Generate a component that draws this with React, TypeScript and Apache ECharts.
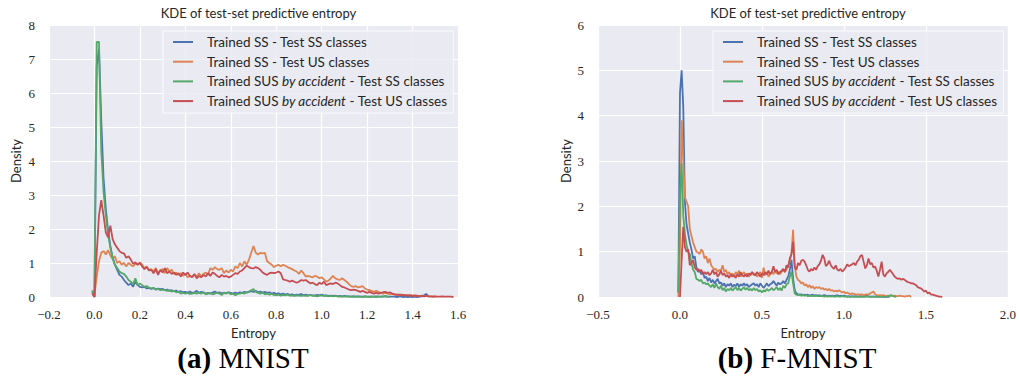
import React, { useEffect, useRef } from "react";
import * as echarts from "echarts";

const SERIES_NAMES = [
  "Trained SS - Test SS classes",
  "Trained SS - Test US classes",
  "Trained SUS by accident - Test SS classes",
  "Trained SUS by accident - Test US classes",
];
const COLORS = ["#4C72B0", "#DD8452", "#55A868", "#C44E52"];

const TITLE = "KDE of test-set predictive entropy";
const X_NAME = "Entropy";
const Y_NAME = "Density";
const CAPTIONS = [
  ["(a)", "MNIST"],
  ["(b)", "F-MNIST"],
];

// x grid of the KDE evaluations: starts at -0.01, step 0.01
const X_START = -0.01;
const X_STEP = 0.01;

// ---------- MNIST (left) ----------
const mnistSsSs = [
  0.15, 0.0, 6.8, 7.3, 5.2, 3.5, 2.6, 1.95, 1.5, 1.15,
  0.95, 0.8, 0.65, 0.6, 0.5, 0.42, 0.35, 0.4, 0.3, 0.45,
  0.35, 0.3, 0.28, 0.3, 0.25, 0.27, 0.24, 0.26, 0.22, 0.25,
  0.23, 0.24, 0.2, 0.22, 0.18, 0.2, 0.17, 0.19, 0.15, 0.17,
  0.14, 0.15, 0.13, 0.16, 0.12, 0.14, 0.18, 0.12, 0.15, 0.13,
  0.1, 0.12, 0.1, 0.13, 0.16, 0.12, 0.14, 0.1, 0.13, 0.11,
  0.14, 0.12, 0.1, 0.13, 0.11, 0.14, 0.12, 0.15, 0.13, 0.15,
  0.17, 0.15, 0.18, 0.14, 0.16, 0.13, 0.15, 0.12, 0.14, 0.1,
  0.12, 0.09, 0.11, 0.08, 0.1, 0.07, 0.09, 0.06, 0.08, 0.05,
  0.07, 0.06, 0.09, 0.05, 0.07, 0.04, 0.06, 0.05, 0.04, 0.06,
  0.05, 0.07, 0.04, 0.05, 0.03, 0.04, 0.03, 0.04, 0.02, 0.03,
  0.02, 0.03, 0.02, 0.02, 0.01, 0.02, 0.01, 0.02, 0.01, 0.01,
  0.02, 0.01, 0.01, 0.01, 0.01, 0.02, 0.01, 0.01, 0.01, 0.01,
  0.01, 0.01, 0.01, 0.01, 0.0, 0.01, 0.01, 0.0, 0.01, 0.0,
  0.01, 0.0, 0.01, 0.0, 0.01, 0.02, 0.05, 0.09, 0.02,
];
const mnistSsUs = [
  null, 0.05, 0.6, 1.05, 1.3, 1.35, 1.25, 1.38, 1.22, 1.12,
  1.2, 1.0, 1.05, 0.95, 1.0, 0.9, 1.0, 0.95, 0.9, 0.98,
  0.95, 1.02, 0.95, 0.85, 0.9, 0.78, 0.82, 0.75, 0.85, 0.7,
  0.78, 0.82, 0.7, 0.85, 0.75, 0.8, 0.68, 0.72, 0.65, 0.7,
  0.62, 0.68, 0.58, 0.62, 0.6, 0.65, 0.6, 0.7, 0.6, 0.68,
  0.72, 0.65, 0.85, 0.8, 0.88, 0.82, 0.8, 0.85, 0.7, 0.78,
  0.72, 0.8, 0.75, 0.9, 0.85, 1.0, 0.9, 1.05, 0.95, 1.1,
  1.3, 1.5, 1.3, 1.25, 1.3, 1.28, 1.3, 1.05, 1.0, 0.95,
  0.88, 0.92, 0.95, 0.9, 0.95, 0.92, 0.88, 0.85, 0.82, 0.78,
  0.75, 0.68, 0.78, 0.7, 0.6, 0.62, 0.6, 0.58, 0.62, 0.6,
  0.55, 0.58, 0.52, 0.45, 0.48, 0.55, 0.62, 0.55, 0.52, 0.5,
  0.55, 0.5, 0.45, 0.38, 0.32, 0.3, 0.32, 0.28, 0.3, 0.32,
  0.25, 0.22, 0.2, 0.18, 0.15, 0.18, 0.15, 0.12, 0.1, 0.12,
  0.1, 0.08, 0.1, 0.07, 0.08, 0.06, 0.08, 0.05, 0.06, 0.05,
  0.06, 0.04, 0.05, 0.04, 0.03, 0.04, 0.02, 0.03, 0.02, 0.01,
  0.02, 0.01,
];
const mnistSusSs = [
  0.2, 0.0, 7.5, 7.5, 4.3, 3.1, 2.4, 1.85, 1.45, 1.15,
  0.95, 0.85, 0.75, 0.7, 0.68, 0.6, 0.5, 0.45, 0.38, 0.55,
  0.35, 0.4, 0.35, 0.3, 0.32, 0.28, 0.25, 0.27, 0.22, 0.24,
  0.2, 0.22, 0.2, 0.18, 0.2, 0.16, 0.18, 0.14, 0.15, 0.1,
  0.12, 0.1, 0.12, 0.09, 0.1, 0.12, 0.1, 0.13, 0.1, 0.14,
  0.08, 0.1, 0.12, 0.08, 0.1, 0.13, 0.1, 0.06, 0.12, 0.1,
  0.14, 0.08, 0.1, 0.05, 0.09, 0.1, 0.12, 0.1, 0.14, 0.16,
  0.2, 0.23, 0.15, 0.12, 0.1, 0.13, 0.08, 0.1, 0.07, 0.09,
  0.06, 0.05, 0.07, 0.04, 0.06, 0.05, 0.07, 0.04, 0.05, 0.03,
  0.05, 0.04, 0.03, 0.05, 0.03, 0.04, 0.06, 0.03, 0.04, 0.02,
  0.04, 0.05, 0.03, 0.04, 0.02, 0.03, 0.02, 0.03, 0.02, 0.01,
  0.02, 0.01, 0.02, 0.01, 0.01, 0.02, 0.01, 0.01, 0.01, 0.0,
  0.01, 0.01, 0.0, 0.01, 0.01, 0.0, 0.01, 0.01, 0.02, 0.03,
  0.01, 0.0,
];
const mnistSusUs = [
  0.1, 0.0, 1.3, 2.4, 2.85, 2.4, 1.9, 1.75, 2.1, 1.7,
  1.55, 1.45, 1.35, 1.3, 1.28, 1.15, 1.2, 1.1, 0.98, 1.02,
  0.95, 1.0, 0.9, 0.82, 0.88, 0.78, 0.8, 0.7, 0.82, 0.65,
  0.8, 0.72, 0.85, 0.7, 0.75, 0.68, 0.72, 0.65, 0.7, 0.6,
  0.72, 0.65, 0.72, 0.62, 0.58, 0.68, 0.55, 0.62, 0.58, 0.65,
  0.6, 0.7, 0.62, 0.72, 0.68, 0.62, 0.58, 0.65, 0.6, 0.62,
  0.58, 0.6, 0.65, 0.7, 0.68, 0.75, 0.78, 0.85, 0.92, 0.88,
  0.85, 0.84, 0.88, 0.85, 0.8, 0.72, 0.68, 0.65, 0.7, 0.72,
  0.7, 0.72, 0.75, 0.7, 0.52, 0.5, 0.48, 0.45, 0.48, 0.45,
  0.42, 0.45, 0.5, 0.48, 0.5, 0.45, 0.4, 0.42, 0.38, 0.35,
  0.42, 0.38, 0.45, 0.35, 0.38, 0.4, 0.38, 0.42, 0.4, 0.35,
  0.3, 0.28, 0.25, 0.22, 0.2, 0.22, 0.2, 0.18, 0.15, 0.18,
  0.15, 0.12, 0.15, 0.12, 0.1, 0.12, 0.1, 0.12, 0.14, 0.15,
  0.12, 0.14, 0.1, 0.08, 0.06, 0.07, 0.05, 0.06, 0.04, 0.05,
  0.04, 0.03, 0.04, 0.03, 0.02, 0.03, 0.02, 0.03, 0.02, 0.02,
  0.01, 0.02, 0.01, 0.01, 0.02, 0.01, 0.01, 0.01, 0.01, 0.0,
];

// ---------- F-MNIST (right) ----------
const fmnistSsSs = [
  0.1, 4.5, 5.0, 4.2, 2.1, 1.6, 1.4, 1.2, 1.05, 0.85,
  0.9, 0.65, 0.55, 0.6, 0.5, 0.55, 0.42, 0.45, 0.35, 0.42,
  0.32, 0.38, 0.3, 0.35, 0.4, 0.3, 0.32, 0.25, 0.3, 0.22,
  0.28, 0.25, 0.3, 0.22, 0.27, 0.24, 0.3, 0.22, 0.28, 0.25,
  0.3, 0.25, 0.28, 0.22, 0.25, 0.28, 0.3, 0.25, 0.28, 0.22,
  0.3, 0.25, 0.2, 0.25, 0.3, 0.24, 0.28, 0.3, 0.35, 0.3,
  0.25, 0.32, 0.28, 0.3, 0.35, 0.3, 0.38, 0.45, 0.6, 0.82,
  0.4, 0.15, 0.08, 0.06, 0.05, 0.06, 0.04, 0.05, 0.04, 0.05,
  0.03, 0.04, 0.05, 0.03, 0.04, 0.03, 0.04, 0.02, 0.03, 0.04,
  0.03, 0.02, 0.03, 0.02, 0.03, 0.02, 0.03, 0.04, 0.02, 0.03,
  0.02, 0.03, 0.02, 0.01, 0.02, 0.01, 0.02, 0.01, 0.02, 0.01,
  0.01, 0.02, 0.01, 0.01, 0.02, 0.03, 0.01, 0.01, 0.01, 0.01,
  0.01, 0.01, 0.0, 0.01, 0.01, 0.0, 0.01, 0.0, 0.01, 0.0,
];
const fmnistSsUs = [
  0.0, 1.0, 3.9, 3.0, 2.2, 2.1, 2.0, 1.5, 1.35, 1.2,
  1.1, 1.0, 0.98, 0.95, 1.05, 1.0, 0.85, 0.9, 0.75, 0.85,
  0.7, 0.65, 0.6, 0.62, 0.55, 0.6, 0.58, 0.7, 0.55, 0.6,
  0.5, 0.55, 0.48, 0.52, 0.45, 0.55, 0.5, 0.58, 0.45, 0.5,
  0.55, 0.48, 0.52, 0.45, 0.5, 0.55, 0.48, 0.52, 0.45, 0.5,
  0.55, 0.42, 0.65, 0.48, 0.55, 0.45, 0.5, 0.55, 0.5, 0.58,
  0.52, 0.55, 0.5, 0.55, 0.6, 0.55, 0.6, 0.7, 0.8, 0.95,
  1.48, 0.7, 0.45, 0.38, 0.35, 0.3, 0.32, 0.25, 0.28, 0.22,
  0.26, 0.2, 0.24, 0.18, 0.22, 0.2, 0.22, 0.18, 0.2, 0.16,
  0.18, 0.15, 0.18, 0.14, 0.15, 0.12, 0.14, 0.12, 0.15, 0.12,
  0.1, 0.12, 0.08, 0.1, 0.08, 0.06, 0.08, 0.07, 0.06, 0.05,
  0.06, 0.05, 0.06, 0.04, 0.05, 0.06, 0.05, 0.08, 0.1, 0.12,
  0.06, 0.04, 0.03, 0.04, 0.03, 0.04, 0.03, 0.02, 0.03, 0.02,
  0.03, 0.02, 0.03, 0.02, 0.02, 0.03, 0.02, 0.02, 0.01, 0.02,
  0.02, 0.03, 0.0,
];
const fmnistSusSs = [
  0.1, 2.2, 2.95, 1.8, 1.4, 1.15, 1.0, 0.95, 0.75, 0.6,
  0.55, 0.4, 0.38, 0.35, 0.38, 0.3, 0.32, 0.28, 0.3, 0.25,
  0.22, 0.28, 0.2, 0.3, 0.22, 0.18, 0.25, 0.15, 0.2, 0.12,
  0.18, 0.15, 0.2, 0.14, 0.18, 0.22, 0.15, 0.2, 0.14, 0.18,
  0.22, 0.16, 0.2, 0.15, 0.18, 0.14, 0.2, 0.15, 0.18, 0.12,
  0.15, 0.1, 0.15, 0.12, 0.18, 0.14, 0.16, 0.2, 0.15, 0.18,
  0.22, 0.15, 0.2, 0.14, 0.25, 0.2, 0.28, 0.3, 0.45, 0.56,
  0.3, 0.08, 0.05, 0.04, 0.05, 0.03, 0.04, 0.03, 0.04, 0.02,
  0.03, 0.02, 0.03, 0.02, 0.03, 0.02, 0.02, 0.03, 0.02, 0.01,
  0.02, 0.01, 0.02, 0.01, 0.02, 0.01, 0.01, 0.02, 0.01, 0.01,
  0.02, 0.01, 0.01, 0.01, 0.01, 0.0, 0.01, 0.01, 0.0, 0.01,
  0.01, 0.0, 0.01, 0.01, 0.0, 0.01, 0.01, 0.0, 0.01, 0.01,
  0.0, 0.01, 0.01, 0.0, 0.01, 0.01, 0.0, 0.01, 0.02, 0.03,
  0.04, 0.02, 0.01, 0.0,
];
const fmnistSusUs = [
  null, 0.0, 0.8, 1.55, 1.1, 1.0, 1.05, 0.7, 0.75, 0.82,
  0.65, 0.6, 0.62, 0.55, 0.6, 0.5, 0.55, 0.5, 0.55, 0.48,
  0.52, 0.6, 0.5, 0.55, 0.45, 0.5, 0.58, 0.48, 0.52, 0.45,
  0.48, 0.42, 0.5, 0.45, 0.48, 0.42, 0.5, 0.45, 0.55, 0.48,
  0.45, 0.5, 0.45, 0.52, 0.48, 0.55, 0.5, 0.48, 0.55, 0.5,
  0.45, 0.52, 0.48, 0.55, 0.5, 0.58, 0.5, 0.55, 0.68, 0.55,
  0.6, 0.5, 0.55, 0.58, 0.62, 0.55, 0.7, 0.65, 0.85, 0.95,
  1.22, 0.65, 0.6, 0.75, 0.7, 0.8, 0.82, 0.78, 0.7, 0.6,
  0.56, 0.62, 0.58, 0.65, 0.6, 0.68, 0.72, 0.8, 0.93, 0.85,
  0.68, 0.72, 0.8, 0.7, 0.65, 0.62, 0.7, 0.6, 0.58, 0.62,
  0.56, 0.6, 0.65, 0.72, 0.68, 0.7, 0.72, 0.75, 0.7, 0.78,
  0.82, 0.9, 0.93, 0.78, 0.63, 0.7, 0.85, 0.72, 0.75, 0.65,
  0.67, 0.58, 0.45, 0.6, 0.78, 0.5, 0.45, 0.52, 0.55, 0.6,
  0.55, 0.5, 0.45, 0.42, 0.4, 0.41, 0.38, 0.4, 0.38, 0.35,
  0.33, 0.32, 0.3, 0.3, 0.28, 0.26, 0.22, 0.2, 0.19, 0.16,
  0.12, 0.14, 0.08, 0.1, 0.06, 0.05, 0.04, 0.03, 0.02, 0.01,
  0.01, 0.0,
];

const MNIST_SERIES = [mnistSsSs, mnistSsUs, mnistSusSs, mnistSusUs];
const FMNIST_SERIES = [fmnistSsSs, fmnistSsUs, fmnistSusSs, fmnistSusUs];

// axis ranges / ticks
const MNIST_X = { min: -0.2, max: 1.6, interval: 0.2 };
const MNIST_Y = { min: 0, max: 8, interval: 1 };
const FMNIST_X = { min: -0.5, max: 2.0, interval: 0.5 };
const FMNIST_Y = { min: 0, max: 6, interval: 1 };

const SANS = "Lato, 'DejaVu Sans', sans-serif";
const SERIF = "'Liberation Serif', 'DejaVu Serif', serif";
const TEXT = "#262626";

function toPairs(vals: (number | null)[]) {
  const out: [number, number][] = [];
  vals.forEach((v, i) => {
    if (v === null) return;
    out.push([Math.round((X_START + i * X_STEP) * 1000) / 1000, v]);
  });
  return out;
}

const fmtX = (v: number) => v.toFixed(1).replace("-", "\u2212");
const fmtY = (v: number) => String(Math.round(v));

const GRIDS = [
  { left: 49, top: 25, width: 409, height: 272 },
  { left: 598, top: 25, width: 410, height: 272 },
];

function legendFormatter(name: string) {
  const key = "by accident";
  const idx = name.indexOf(key);
  if (idx < 0) return `{n|${name}}`;
  return `{n|${name.slice(0, idx)}}{i|${key}}{n|${name.slice(idx + key.length)}}`;
}

export default function App() {
  const ref = useRef<HTMLDivElement>(null);

  useEffect(() => {
    document.body.style.margin = "0";
    if (!ref.current) return;
    const chart = echarts.init(ref.current, undefined, { renderer: "svg" });

    const xRanges = [MNIST_X, FMNIST_X];
    const yRanges = [MNIST_Y, FMNIST_Y];
    const allSeries = [MNIST_SERIES, FMNIST_SERIES];

    const xAxis = xRanges.map((r, gi) => ({
      type: "value",
      gridIndex: gi,
      min: r.min,
      max: r.max,
      interval: r.interval,
      name: X_NAME,
      nameLocation: "middle",
      nameGap: 29,
      nameTextStyle: { fontFamily: SANS, fontSize: 13, color: TEXT },
      axisLine: { show: false },
      axisTick: { show: false },
      axisLabel: {
        formatter: fmtX,
        fontFamily: SERIF,
        fontSize: 13,
        color: TEXT,
        margin: 11,
        showMinLabel: true,
        showMaxLabel: true,
      },
      splitLine: { show: true, lineStyle: { color: "#ffffff", width: 1.2 } },
    }));

    const yAxis = yRanges.map((r, gi) => ({
      type: "value",
      gridIndex: gi,
      min: r.min,
      max: r.max,
      interval: r.interval,
      name: Y_NAME,
      nameLocation: "middle",
      nameGap: gi === 0 ? 27 : 26,
      nameTextStyle: { fontFamily: SANS, fontSize: 13, color: TEXT },
      axisLine: { show: false },
      axisTick: { show: false },
      axisLabel: {
        formatter: fmtY,
        fontFamily: SERIF,
        fontSize: 13,
        color: TEXT,
        margin: 14,
      },
      splitLine: { show: true, lineStyle: { color: "#ffffff", width: 1.2 } },
    }));

    const series: any[] = [];
    allSeries.forEach((group, gi) => {
      group.forEach((vals, si) => {
        series.push({
          type: "line",
          name: SERIES_NAMES[si],
          xAxisIndex: gi,
          yAxisIndex: gi,
          data: toPairs(vals),
          showSymbol: false,
          symbol: "none",
          lineStyle: { color: COLORS[si], width: 1.8 },
          itemStyle: { color: COLORS[si] },
          z: 2 + si,
        });
      });
    });

    const legendBase = {
      orient: "vertical",
      top: 31,
      data: SERIES_NAMES,
      icon: "rect",
      itemWidth: 20,
      itemHeight: 2,
      itemGap: 5.7,
      padding: [4, 6, 5, 10],
      backgroundColor: "rgba(234,234,242,0.8)",
      borderColor: "#fafafc",
      borderWidth: 1,
      borderRadius: 0,
      formatter: legendFormatter,
      selectedMode: false,
      textStyle: {
        padding: [0, 0, 0, 9],
        lineHeight: 14,
        rich: {
          n: { fontFamily: SANS, fontSize: 13.5, color: TEXT, lineHeight: 14 },
          i: {
            fontFamily: SANS,
            fontSize: 13.5,
            color: TEXT,
            fontStyle: "italic",
            lineHeight: 14,
          },
        },
      },
    };

    const centers = GRIDS.map((g) => g.left + g.width / 2);
    const captionX = [243, 797];

    chart.setOption({
      animation: false,
      backgroundColor: "#ffffff",
      title: centers.map((c) => ({
        text: TITLE,
        left: c,
        top: 1,
        textAlign: "center",
        textStyle: {
          fontFamily: SANS,
          fontSize: 13,
          fontWeight: "normal",
          color: TEXT,
        },
      })),
      grid: GRIDS.map((g) => ({
        ...g,
        show: true,
        backgroundColor: "#EAEAF2",
        borderWidth: 0,
        containLabel: false,
      })),
      xAxis,
      yAxis,
      legend: [
        { ...legendBase, left: 163 },
        { ...legendBase, left: 713 },
      ],
      series,
      graphic: CAPTIONS.map((cap, i) => ({
        type: "text",
        x: captionX[i],
        y: 358,
        style: {
          text: `{b|${cap[0]}}{r| ${cap[1]}}`,
          align: "center",
          verticalAlign: "middle",
          rich: {
            b: { fontFamily: SERIF, fontSize: 29, fontWeight: "bold", fill: "#000" },
            r: { fontFamily: SERIF, fontSize: 29, fill: "#000" },
          },
        },
      })),
    });

    return () => chart.dispose();
  }, []);

  return <div ref={ref} style={{ width: 1019, height: 380 }} />;
}
